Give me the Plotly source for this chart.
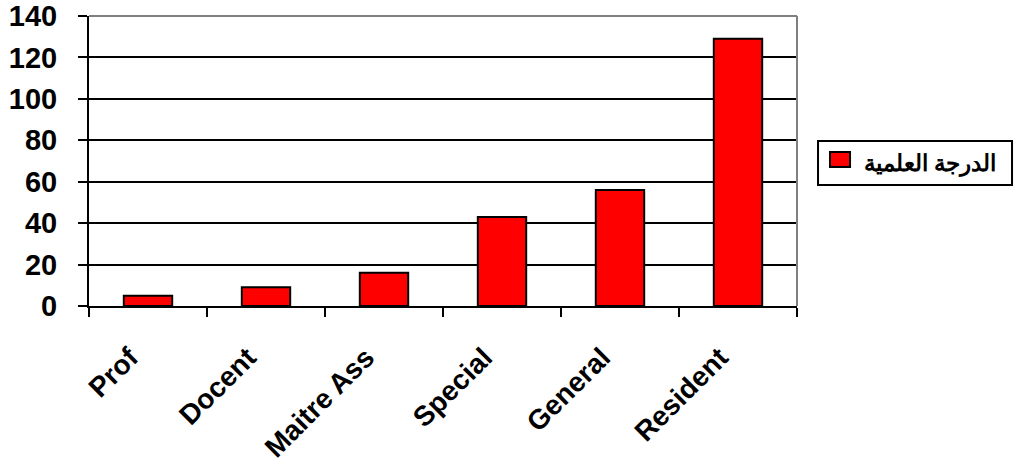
import plotly.graph_objects as go

categories = ["Prof", "Docent", "Maitre Ass", "Special", "General", "Resident"]
values = [5, 9, 16, 43, 56, 129]
series_name = "الدرجة العلمية"
y_ticks = [0, 20, 40, 60, 80, 100, 120, 140]

fig = go.Figure()
fig.add_trace(go.Bar(
    x=categories, y=values, name=series_name,
    marker=dict(color="#FF0000", line=dict(color="#000000", width=2)),
    width=0.41, showlegend=False,
))

font_family = "Liberation Sans, Arial, sans-serif"
fig.update_layout(
    width=1016, height=476,
    margin=dict(l=89, r=219, t=16, b=170),
    paper_bgcolor="white", plot_bgcolor="white",
    xaxis=dict(
        type="category", tickson="boundaries", ticks="outside", ticklen=9,
        tickwidth=2, tickcolor="black", showline=True, linecolor="black",
        linewidth=2, showgrid=False, tickangle=-45, automargin=False,
        ticklabelstandoff=22, ticklabelshift=-18,
        tickfont=dict(family=font_family, size=28, color="black", weight="bold"),
    ),
    yaxis=dict(
        range=[0, 140], tickvals=y_ticks, ticks="outside", ticklen=9,
        tickwidth=2, tickcolor="black", showline=True, linecolor="black",
        linewidth=2, showgrid=True, gridcolor="black", gridwidth=2,
        zeroline=False, automargin=False, ticklabelstandoff=15,
        tickfont=dict(family=font_family, size=29, color="black", weight="bold"),
    ),
)
# gray top and right frame
fig.add_shape(type="line", xref="paper", yref="paper", x0=0, x1=1, y0=1, y1=1,
              line=dict(color="#808080", width=2))
fig.add_shape(type="line", xref="paper", yref="paper", x0=1, x1=1, y0=0, y1=1,
              line=dict(color="#808080", width=2))

# legend box (RTL: swatch on the right of the text)
fig.add_shape(type="rect", xref="paper", yref="paper",
              x0=1.0297, x1=1.3037, y0=0.417, y1=0.569,
              fillcolor="white", line=dict(color="black", width=2))
fig.add_annotation(
    xref="paper", yref="paper", x=1.284, y=0.49, xanchor="right", yanchor="middle",
    text=series_name, showarrow=False,
    font=dict(family=font_family, size=23, color="black", weight="bold"),
)
fig.add_shape(type="rect", xref="paper", yref="paper",
              x0=1.0466, x1=1.0749, y0=0.479, y1=0.531,
              fillcolor="#FF0000", line=dict(color="black", width=2))

fig.write_html("out.html")
